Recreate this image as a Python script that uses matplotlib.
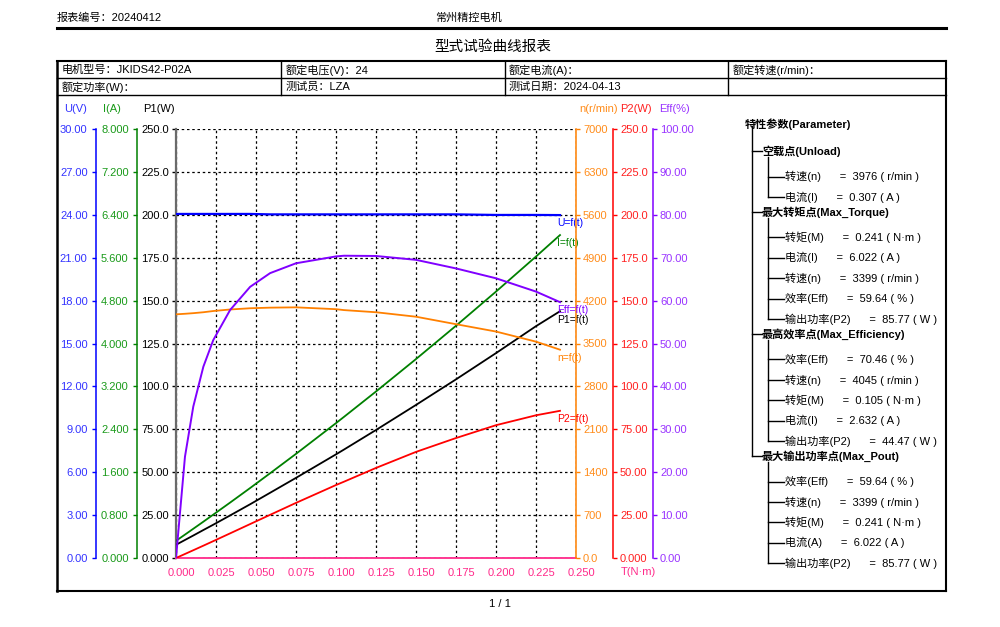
import matplotlib
matplotlib.use("Agg")
import matplotlib.pyplot as plt
import matplotlib.transforms as mtrans
from matplotlib.lines import Line2D

plt.rcParams['font.family'] = ['Liberation Sans', 'Noto Sans CJK SC', 'DejaVu Sans']

# ---------------- data ----------------
T = [0, 0.0056, 0.0108, 0.0171, 0.0233, 0.0338, 0.0463, 0.0588, 0.075, 0.1,
     0.105, 0.125, 0.15, 0.175, 0.2, 0.225, 0.24]
U = [24.06, 24.06, 24.06, 24.06, 24.06, 24.06, 24.06, 24.03, 24.03, 24.03,
     24.03, 24.03, 24.03, 24.03, 23.99, 23.99, 23.98]
I = [0.32, 0.436, 0.545, 0.677, 0.809, 1.033, 1.304, 1.580, 1.942, 2.515,
     2.632, 3.105, 3.710, 4.331, 4.968, 5.622, 6.022]
P1 = [7.7, 10.5, 13.1, 16.3, 19.4, 24.8, 31.3, 38.0, 46.7, 60.4,
      63.2, 74.6, 89.2, 104.1, 119.4, 135.1, 143.8]
P2 = [0, 2.34, 4.52, 7.18, 9.83, 14.35, 19.76, 25.15, 32.12, 42.52,
      44.47, 52.49, 61.84, 69.91, 77.39, 83.17, 85.77]
N = [3976, 3985, 3995, 4010, 4030, 4055, 4075, 4085, 4090, 4060,
     4045, 4010, 3937, 3815, 3695, 3530, 3399]
EFF = [0, 23.6, 35.3, 44.6, 50.8, 57.8, 63.2, 66.4, 68.7, 70.3,
       70.46, 70.4, 69.5, 67.5, 65.2, 62.1, 59.64]

x_ticks = [0, 0.025, 0.05, 0.075, 0.1, 0.125, 0.15, 0.175, 0.2, 0.225, 0.25]
x_labels = ["0.000", "0.025", "0.050", "0.075", "0.100", "0.125", "0.150",
            "0.175", "0.200", "0.225", "0.250"]
u_ticks = [0, 3, 6, 9, 12, 15, 18, 21, 24, 27, 30]
u_labels = ["0.00", "3.00", "6.00", "9.00", "12.00", "15.00", "18.00",
            "21.00", "24.00", "27.00", "30.00"]
i_ticks = [0, 0.8, 1.6, 2.4, 3.2, 4.0, 4.8, 5.6, 6.4, 7.2, 8.0]
i_labels = ["0.000", "0.800", "1.600", "2.400", "3.200", "4.000", "4.800",
            "5.600", "6.400", "7.200", "8.000"]
p_ticks = [0, 25, 50, 75, 100, 125, 150, 175, 200, 225, 250]
p_labels = ["0.000", "25.00", "50.00", "75.00", "100.0", "125.0", "150.0",
            "175.0", "200.0", "225.0", "250.0"]
n_ticks = [0, 700, 1400, 2100, 2800, 3500, 4200, 4900, 5600, 6300, 7000]
n_labels = ["0.0", "700", "1400", "2100", "2800", "3500", "4200", "4900",
            "5600", "6300", "7000"]
e_ticks = [0, 10, 20, 30, 40, 50, 60, 70, 80, 90, 100]
e_labels = ["0.00", "10.00", "20.00", "30.00", "40.00", "50.00", "60.00",
            "70.00", "80.00", "90.00", "100.00"]

header_left = "报表编号：20240412"
header_mid = "常州精控电机"
title = "型式试验曲线报表"
table_rows = [["电机型号：JKIDS42-P02A", "额定电压(V)：24", "额定电流(A)：", "额定转速(r/min)："],
              ["额定功率(W)：", "测试员：LZA", "测试日期：2024-04-13", ""]]

param_title = "特性参数(Parameter)"
param_groups = [
    ("空载点(Unload)", [("转速(n)", "3976", "r/min"), ("电流(I)", "0.307", "A")]),
    ("最大转矩点(Max_Torque)", [("转矩(M)", "0.241", "N·m"), ("电流(I)", "6.022", "A"),
                            ("转速(n)", "3399", "r/min"), ("效率(Eff)", "59.64", "%"),
                            ("输出功率(P2)", "85.77", "W")]),
    ("最高效率点(Max_Efficiency)", [("效率(Eff)", "70.46", "%"), ("转速(n)", "4045", "r/min"),
                                ("转矩(M)", "0.105", "N·m"), ("电流(I)", "2.632", "A"),
                                ("输出功率(P2)", "44.47", "W")]),
    ("最大输出功率点(Max_Pout)", [("效率(Eff)", "59.64", "%"), ("转速(n)", "3399", "r/min"),
                              ("转矩(M)", "0.241", "N·m"), ("电流(A)", "6.022", "A"),
                              ("输出功率(P2)", "85.77", "W")]),
]

# ---------------- colours ----------------
BLUE, BLUE_L = "#0000ff", "#3333ff"
GREEN, GREEN_L = "#008000", "#1a9a1a"
ORANGE, ORANGE_L = "#ff8000", "#ff8c1a"
RED, RED_L = "#ff0000", "#ff2020"
PURPLE, PURPLE_L = "#8000ff", "#9933ff"
PINK = "#ff2a8a"
TICK_FS = 8

W, H = 1000, 627
fig = plt.figure(figsize=(W / 100, H / 100), dpi=100)
fig.patch.set_facecolor("white")


def fx(x):
    return x / W


def fy(y):
    return 1 - y / H


def hline(x0, x1, y, lw=1.0, color="black"):
    fig.add_artist(Line2D([fx(x0), fx(x1)], [fy(y), fy(y)], lw=lw, color=color,
                          transform=fig.transFigure))


def vline(x, y0, y1, lw=1.0, color="black"):
    fig.add_artist(Line2D([fx(x), fx(x)], [fy(y0), fy(y1)], lw=lw, color=color,
                          transform=fig.transFigure))


# ---------------- page header / table ----------------
fig.text(fx(57), fy(18), header_left, fontsize=8, ha="left", va="center")
fig.text(fx(468), fy(18), header_mid, fontsize=8, ha="center", va="center")
hline(57, 946, 28, lw=2.2)
fig.text(fx(493), fy(47), title, fontsize=10.5, ha="center", va="center")

hline(57, 946, 61, lw=1.5)
hline(57, 946, 78, lw=1.0)
hline(57, 946, 95, lw=1.0)
hline(57, 946, 591, lw=1.5)
vline(57, 61, 591, lw=1.8)
vline(946, 61, 591, lw=1.5)
for xc in (281, 505, 728):
    vline(xc, 61, 95, lw=1.0)
col_x = [62, 286, 509, 733]
for r, row in enumerate(table_rows):
    for c, txt in enumerate(row):
        if txt:
            fig.text(fx(col_x[c]), fy(70 + 17 * r), txt, fontsize=8, ha="left", va="center")
fig.text(fx(500), fy(604), "1 / 1", fontsize=8, ha="center", va="center")

# ---------------- chart ----------------
rect = [fx(176), fy(558), 400 / W, 429 / H]
ax = fig.add_axes(rect)
ax.set_xlim(0, 0.25)
ax.set_ylim(0, 250)
ax.set_xticks(x_ticks)
ax.set_xticklabels(x_labels, color=PINK, fontsize=TICK_FS)
ax.tick_params(axis="x", length=0, pad=7)
off = mtrans.ScaledTranslation(5 / 100, 0, fig.dpi_scale_trans)
for lbl in ax.get_xticklabels():
    lbl.set_transform(lbl.get_transform() + off)
ax.set_yticks(p_ticks)
ax.set_yticklabels(p_labels, fontsize=TICK_FS, color="black")
ax.tick_params(axis="y", length=3, width=1, pad=2, color="black")
ax.grid(True, color="black", lw=0.9, ls=(0, (2.0, 2.2)))
ax.spines["top"].set_visible(False)
ax.spines["right"].set_visible(False)
ax.spines["left"].set_color("#6a6a6a")
ax.spines["left"].set_linewidth(1.6)
ax.spines["bottom"].set_color(PINK)
ax.spines["bottom"].set_linewidth(1.3)
ax.plot(T, P1, color="black", lw=1.3, zorder=3)


def side_axis(lim, ticks, labels, color, lcolor, side, pos):
    a = fig.add_axes(rect)
    a.patch.set_visible(False)
    a.set_xlim(0, 0.25)
    a.set_ylim(*lim)
    a.set_xticks([])
    for s in a.spines.values():
        s.set_visible(False)
    a.spines[side].set_visible(True)
    a.spines[side].set_position(("axes", pos))
    a.spines[side].set_color(color)
    a.spines[side].set_linewidth(1.1)
    a.yaxis.set_ticks_position(side)
    a.set_yticks(ticks)
    a.set_yticklabels(labels, fontsize=TICK_FS, color=lcolor)
    a.tick_params(axis="y", color=color, length=3, width=1, pad=3 if side == "left" else 2)
    return a


axU = side_axis((0, 30), u_ticks, u_labels, BLUE, BLUE_L, "left", -0.2)
axI = side_axis((0, 8), i_ticks, i_labels, GREEN, GREEN_L, "left", -0.0975)
axN = side_axis((0, 7000), n_ticks, n_labels, ORANGE, ORANGE_L, "right", 1.0)
axP2 = side_axis((0, 250), p_ticks, p_labels, RED, RED_L, "right", 1.0925)
axE = side_axis((0, 100), e_ticks, e_labels, PURPLE, PURPLE_L, "right", 1.1925)

axU.plot(T, U, color=BLUE, lw=1.6)
axI.plot(T, I, color=GREEN, lw=1.3)
axN.plot(T, N, color=ORANGE, lw=1.3)
axP2.plot(T, P2, color=RED, lw=1.3)
axE.plot(T, EFF, color=PURPLE, lw=1.4)

curve_labels = [(axU, U, "U=f(t)", BLUE), (axI, I, "I=f(t)", GREEN),
                (axE, EFF, "Eff=f(t)", PURPLE), (ax, P1, "P1=f(t)", "black"),
                (axN, N, "n=f(t)", ORANGE), (axP2, P2, "P2=f(t)", RED)]
for a, ys, txt, col in curve_labels:
    a.annotate(txt, xy=(T[-1], ys[-1]), xytext=(-2, -6), textcoords="offset points",
               fontsize=7.5, color=col, ha="left", va="center", annotation_clip=False)

# axis headers
for x, txt, col in [(64, "U(V)", BLUE_L), (103, "I(A)", GREEN_L), (143, "P1(W)", "black"),
                    (579, "n(r/min)", ORANGE_L), (620, "P2(W)", RED_L), (659, "Eff(%)", PURPLE_L)]:
    fig.text(fx(x), fy(109), txt, fontsize=TICK_FS, color=col, ha="left", va="center")
fig.text(fx(621), fy(572), "T(N·m)", fontsize=TICK_FS, color=PINK, ha="left", va="center")

# ---------------- parameter tree ----------------
fig.text(fx(745), fy(124), param_title, fontsize=8, fontweight="bold", ha="left", va="center")
y = 151
group_ys = []
for gname, items in param_groups:
    group_ys.append(y)
    fig.text(fx(762), fy(y), gname, fontsize=8, fontweight="bold", ha="left", va="center")
    hline(752, 762, y)
    gy = y
    y += 25.5
    item_ys = []
    for lab, val, unit in items:
        item_ys.append(y)
        fig.text(fx(785), fy(y), f"{lab}      =  {val} ( {unit} )", fontsize=8,
                 ha="left", va="center")
        hline(768, 784, y)
        y += 20.4
    vline(768, gy + 6, item_ys[-1])
    y = item_ys[-1] + 15
vline(752, 126, group_ys[-1])

fig.savefig("out.png", dpi=100, facecolor="white")
